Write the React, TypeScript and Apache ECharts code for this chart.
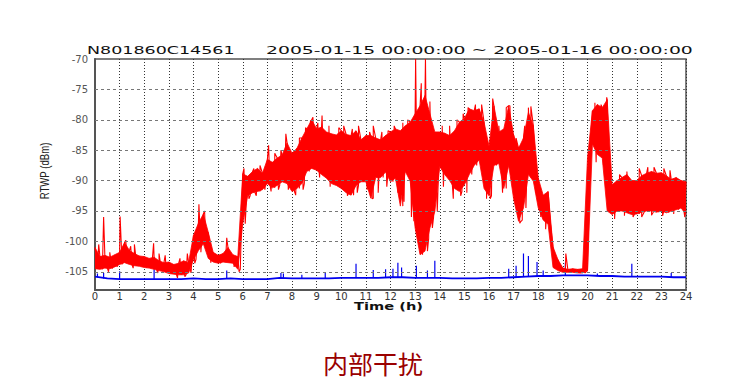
import React, { useEffect, useRef } from "react";
import * as echarts from "echarts";

// ---- data ----
const redStep = 0.2; // hours between envelope samples
const redHi = [
  -101, -102.5, -102.3, -102.6, -102.2,
  -101.8, -100.2, -101.5, -102, -102.4,
  -102.5, -102.8, -102.6, -103.2, -103.5,
  -103.4, -103.8, -103.6, -103.2, -103.5,
  -99, -97, -95.5, -98.5, -101.8,
  -102.3, -102, -101, -102.2, -102.5,
  -88.9, -89.3, -88.5, -88, -88.8,
  -86.5, -87, -86.3, -85.8, -83.8,
  -85.5, -84.7, -83, -81.5, -80,
  -81.5, -81.2, -82, -82.3, -82.5,
  -81.8, -82.4, -82.6, -81.8, -83.3,
  -82.6, -82.6, -83, -83.3, -82.6,
  -82, -81.5, -81.8, -81, -80.4,
  -79, -77.7, -76, -79, -82,
  -82, -82.2, -82.6, -81.8, -80.4,
  -79.8, -78.2, -78.5, -78.2, -80.4,
  -84.3, -77.7, -82, -81.5, -77.7,
  -82.5, -84.7, -83, -78.8, -81,
  -89.6, -92.4, -91.8, -100.9, -103,
  -104.4, -104.6, -104.5, -104.6, -104.5,
  -104.8, -78.5, -77.5, -78, -76.7,
  -90.7, -90, -89.5, -89, -90,
  -90, -89.2, -88.8, -88.5, -88.8,
  -88.7, -89.2, -89.8, -89.5, -90,
  -90.2,
];
const redLo = [
  -104.5, -104.6, -104.4, -104.5, -104.2,
  -103.8, -103.5, -103.8, -104, -104.1,
  -104.3, -104.4, -104.6, -104.8, -105,
  -105.3, -105.4, -105.5, -105.5, -105.2,
  -103, -101.5, -100.4, -102.8, -103.4,
  -103.6, -103.4, -103.5, -103.6, -104.6,
  -97.1, -92.5, -92, -91.8, -91.5,
  -90.5, -91.2, -90.8, -90.2, -90.5,
  -91.8, -91.3, -90.5, -88.5, -88,
  -88.3, -89, -89.6, -90.5, -90.8,
  -91.3, -92, -92.4, -90.8, -90.2,
  -90.2, -92.9, -89.5, -89.5, -88.6,
  -90.2, -89.6, -94.2, -88.5, -90.1,
  -97.8, -102.2, -101.6, -97.8, -95.1,
  -87.7, -89, -90, -91.3, -91.8,
  -90.7, -89, -87.5, -86.6, -91.3,
  -92.5, -87.5, -87.2, -91.3, -87.5,
  -93, -96.7, -94.5, -89, -90.1,
  -94.5, -96.5, -97.2, -104.3, -104.8,
  -105.1, -105.1, -105.1, -105.2, -105.2,
  -86.3, -84, -85.7, -86.3, -95,
  -95.6, -95, -95, -95.3, -95.6,
  -95.5, -95.2, -95, -95, -95.2,
  -95, -95.3, -95, -94.8, -94.5,
  -95.6,
];
// isolated peaks / dips beyond the dense band: [hour, dBm]
const redSpikes = [
  [0.15, -100.5], [0.35, -96], [0.55, -105], [0.6, -101.8], [1.02, -95.9],
  [1.25, -99.8], [1.45, -100.8], [1.55, -104.4], [1.6, -100.5], [2.38, -100.3],
  [2.55, -105.2], [2.6, -102], [2.85, -102.3], [3.35, -106], [3.45, -102.8],
  [3.65, -105.8], [3.75, -102], [4.05, -103.6], [4.22, -93.9], [4.3, -101.8],
  [4.45, -95], [4.7, -103.5], [5.35, -99.4], [5.65, -104.2], [5.85, -105],
  [6.05, -88], [6.25, -93], [6.45, -88], [6.55, -92.5], [6.7, -87.5],
  [7.05, -84.2], [7.15, -91.8], [7.3, -85.5], [7.45, -91.5], [7.55, -85],
  [7.75, -82.3], [7.85, -91.5], [8.15, -92.4], [8.3, -83], [8.45, -91.5],
  [8.55, -81.3], [8.75, -80.2], [8.85, -79.6], [9.05, -80.5], [9.12, -89.5],
  [9.22, -79.3], [9.5, -81], [9.55, -91], [9.9, -81.3], [10.1, -81],
  [10.25, -92.5], [10.45, -81.5], [10.65, -92], [10.7, -81], [11.05, -91.5],
  [11.15, -82], [11.25, -93], [11.3, -81], [11.5, -92], [11.65, -82],
  [11.85, -91], [11.9, -81.8], [12.15, -81], [12.3, -92], [12.5, -80.5],
  [12.55, -93.5], [12.7, -80], [12.85, -96], [12.95, -96.7], [13.02, -70],
  [13.15, -100.5], [13.25, -74], [13.3, -97], [13.42, -70], [13.55, -99.5],
  [13.6, -77], [13.75, -96], [14.1, -81], [14.15, -91], [14.4, -81],
  [14.55, -93], [14.7, -80], [14.85, -92.5], [14.95, -79], [15.1, -92],
  [15.15, -78], [15.45, -77.5], [15.7, -77.5], [15.9, -93], [16.05, -93],
  [16.15, -76.5], [16.4, -81], [16.55, -92], [16.7, -78], [16.85, -77.7],
  [17.1, -83], [17.25, -97], [17.35, -96.5], [17.45, -81], [17.6, -78],
  [17.7, -77.8], [17.9, -92], [18.1, -96], [18.3, -98], [19.12, -102],
  [20.3, -77.2], [20.35, -87], [20.55, -77.5], [20.65, -87.5], [20.78, -76.3],
  [21.1, -96.3], [21.3, -89], [21.5, -95.8], [21.6, -88.5], [21.85, -96],
  [22.1, -88], [22.2, -96], [22.45, -87.8], [22.6, -95.7], [22.7, -87.8],
  [23.05, -95.8], [23.1, -88], [23.35, -88.3], [23.5, -95.5], [23.95, -96],
];

const blueStep = 0.5;
const blueBase = [
  -105.8, -106.1, -106.2, -106.2, -106.2, -106.2, -106.2, -106.2,
  -106.1, -106.2, -106.2, -106.1, -106.2, -106.2, -106.2, -106.0,
  -106.1, -106.1, -106.1, -106.1, -106.0, -106.0, -106.0, -106.0,
  -105.9, -105.9, -106.0, -106.0, -106.0, -106.1, -106.1, -106.1,
  -106.0, -106.0, -105.9, -105.8, -105.7, -105.7, -105.6, -105.6,
  -105.6, -105.7, -105.7, -105.8, -105.8, -105.8, -105.8, -105.9,
  -105.9,
];
// [hour, base, peak]
const blueSpikes = [
  [0.1, -105.9, -105.3], [0.35, -106.1, -105.2], [1.0, -106.2, -104.9],
  [2.4, -106.2, -104.6], [5.35, -106.1, -104.8], [7.55, -106.0, -105.2],
  [7.65, -106.0, -105.3], [8.4, -106.1, -105.5], [9.35, -106.1, -105.2],
  [10.6, -106.0, -103.7], [11.3, -106.0, -104.7], [11.8, -106.0, -104.6],
  [12.1, -105.9, -104.5], [12.3, -105.9, -103.5], [12.45, -105.9, -104.3],
  [13.05, -106.0, -104], [13.5, -106.0, -104.8], [13.8, -106.0, -103.2],
  [16.8, -106.0, -104.5], [17.1, -105.9, -104], [17.4, -105.8, -102],
  [17.6, -105.8, -102.4], [17.95, -105.7, -103.4], [18.2, -105.7, -104.8],
  [19.1, -105.6, -103.5], [20.4, -105.7, -105.3], [21.8, -105.8, -103.7],
  [23.4, -105.9, -105.2],
];

const yLabels = [-105, -100, -95, -90, -85, -80, -75, -70];
const yGrid = [-105, -100, -95, -90, -85, -80, -75];
const titleId = "N801860C14561";
const titleRange = "2005-01-15 00:00:00 ~ 2005-01-16 00:00:00";
const xName = "Time (h)";
const yName = "RTWP (dBm)";
const caption = "内部干扰";

export default function App() {
  const ref = useRef<HTMLDivElement>(null);
  useEffect(() => {
    document.body.style.margin = "0";
    if (!ref.current) return;
    const chart = echarts.init(ref.current, null, { renderer: "svg" });

    const red: any[] = [];
    redHi.forEach((h, i) => {
      const t = Math.round(i * redStep * 100) / 100;
      red.push([t, h]);
      const tLo = Math.round((t + redStep / 2) * 100) / 100;
      if (i < redLo.length && tLo <= 24) red.push([tLo, redLo[i]]);
    });
    redSpikes.forEach((s) => red.push([s[0], s[1]]));
    red.sort((a, b) => a[0] - b[0]);

    // envelope band: top edge forward, bottom edge backward
    const bandTop: number[][] = [];
    const bandBot: number[][] = [];
    redLo.forEach((lo, i) => {
      const t = Math.round(i * redStep * 100) / 100;
      bandTop.push([t, Math.max(redHi[i], lo)]);
      bandBot.push([t, Math.min(redHi[i], lo)]);
    });

    const blue = blueBase.map((v, i) => [i * blueStep, v]);
    const spikes: any[] = [];
    blueSpikes.forEach(([t, b, p]) => {
      spikes.push([t, b], [t, p], [t, null]);
    });

    const option: any = {
      animation: false,
      grid: {
        left: 95, right: 62, top: 59, bottom: 100,
        show: true, borderColor: "#555", borderWidth: 1.5,
        backgroundColor: "transparent",
      },
      xAxis: {
        type: "value", min: 0, max: 24, interval: 1,
        axisLine: { show: true, onZero: false, lineStyle: { color: "#555", width: 2 } },
        axisTick: { show: false },
        axisLabel: { color: "#333", fontSize: 10, fontFamily: "DejaVu Sans", margin: 1 },
        splitLine: { show: true, lineStyle: { color: "#333", type: [1, 2], width: 1 } },
      },
      yAxis: {
        type: "value", min: -108, max: -70, interval: 1,
        axisLine: { show: true, onZero: false, lineStyle: { color: "#555", width: 2 } },
        axisTick: { show: false },
        splitLine: { show: false },
        axisLabel: {
          color: "#555", fontSize: 10, fontFamily: "DejaVu Sans", margin: 7,
          formatter: (v: number) => (yLabels.includes(v) ? String(v) : ""),
        },
      },
      series: [
        {
          type: "line", data: blue, symbol: "none", z: 2,
          lineStyle: { color: "#0000ee", width: 1.8 },
          markLine: {
            silent: true, symbol: "none", label: { show: false },
            lineStyle: { color: "#777", type: [3, 3], width: 1 },
            data: yGrid.map((y) => ({ yAxis: y })),
          },
        },
        {
          type: "line", data: spikes, symbol: "none", z: 2, connectNulls: false,
          lineStyle: { color: "#0000ee", width: 1.2 },
        },
        {
          type: "custom", z: 3, clip: true,
          data: [bandTop[0]],
          renderItem: (params: any, api: any) => {
            const pts: number[][] = [];
            bandTop.forEach((p) => pts.push(api.coord(p)));
            for (let i = bandBot.length - 1; i >= 0; i--) pts.push(api.coord(bandBot[i]));
            return {
              type: "polygon",
              shape: { points: pts },
              style: { fill: "#ff0000", stroke: "#ff0000", lineWidth: 0.8 },
            };
          },
        },
        {
          type: "line", data: red, symbol: "none", z: 4,
          lineStyle: { color: "#ff0000", width: 1.1 },
        },
      ],
      graphic: [
        {
          type: "text", x: 87, y: 50, scaleX: 1.59,
          style: { text: titleId, fontSize: 11, fontFamily: "DejaVu Sans", fill: "#111", textVerticalAlign: "middle", textAlign: "left" },
        },
        {
          type: "text", x: 266, y: 50, scaleX: 1.71,
          style: { text: titleRange, fontSize: 11, fontFamily: "DejaVu Sans", fill: "#111", textVerticalAlign: "middle", textAlign: "left" },
        },
        {
          type: "text", x: 388.5, y: 306, scaleX: 1.33,
          style: { text: xName, fontSize: 11, fontWeight: "bold", fontFamily: "DejaVu Sans", fill: "#111", textAlign: "center", textVerticalAlign: "middle" },
        },
        {
          type: "text", x: 45, y: 171, rotation: Math.PI / 2, scaleX: 0.8,
          style: { text: yName, fontSize: 12, fontFamily: "Liberation Sans", fill: "#222", textAlign: "center", textVerticalAlign: "middle" },
        },
        {
          type: "text", x: 373, y: 363,
          style: { text: caption, fontSize: 25, fontFamily: "Noto Sans CJK SC", fill: "#9a0000", textAlign: "center", textVerticalAlign: "middle" },
        },
      ],
    };
    chart.setOption(option);
    return () => chart.dispose();
  }, []);
  return <div ref={ref} style={{ width: 748, height: 390 }} />;
}
